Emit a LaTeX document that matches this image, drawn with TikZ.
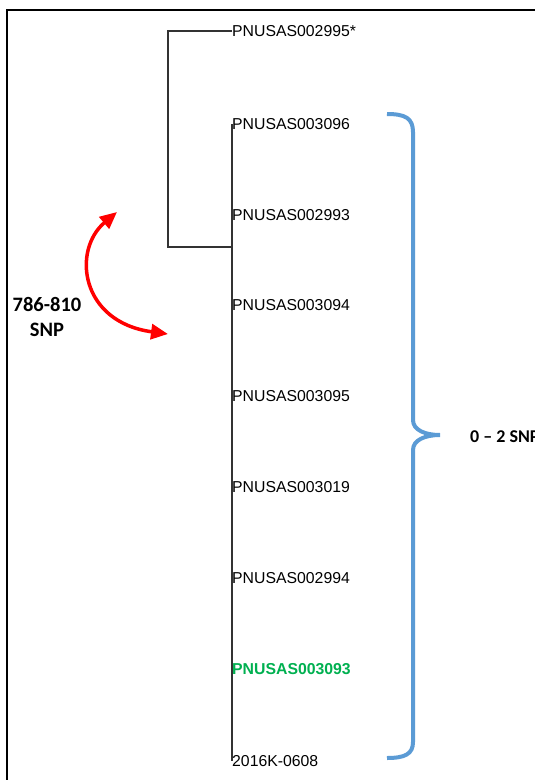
\documentclass[tikz,border=0pt]{standalone}
\usepackage{fontspec}
\setmainfont{Liberation Sans}
\newfontfamily\calibri{Carlito}
\usetikzlibrary{arrows.meta}
\definecolor{bracecol}{RGB}{91,155,213}
\definecolor{hitgreen}{RGB}{0,176,80}

\begin{document}
\begin{tikzpicture}[
  x=1pt, y=-1pt,
  leaf/.style={anchor=west, inner sep=0pt, font=\fontsize{15.8}{18}\selectfont},
  hit/.style={leaf, text=hitgreen, font=\fontsize{15.8}{18}\selectfont\bfseries},
  branch/.style={draw=black!80, line width=1.3pt},
  bracebar/.style={draw=bracecol, line width=4pt},
  swap/.style={draw=red, line width=3.5pt, {Triangle[length=17pt,width=15pt]}-{Triangle[length=17pt,width=15pt]}},
  note/.style={align=center, inner sep=0pt, font=\calibri\bfseries},
]
\useasboundingbox (0,0) rectangle (535,780);

% ---- frame ------------------------------------------------------
\draw[line width=2pt] (7,10) rectangle (545,795);

% ---- leaves -----------------------------------------------------
\node[leaf] (out) at (232,31) {PNUSAS002995*};
\node[leaf] (l1) at (232,124) {PNUSAS003096};
\node[leaf] (l2) at (232,215) {PNUSAS002993};
\node[leaf] (l3) at (232,305) {PNUSAS003094};
\node[leaf] (l4) at (232,396) {PNUSAS003095};
\node[leaf] (l5) at (232,487) {PNUSAS003019};
\node[leaf] (l6) at (232,578) {PNUSAS002994};
\node[hit]  (l7) at (232,669) {PNUSAS003093};
\node[leaf] (l8) at (232,761) {2016K-0608};

% ---- branches ---------------------------------------------------
\coordinate (root)  at (168,247);
\coordinate (inner) at (232,247);
\draw[branch] (out.west) -| (root) -- (inner);
\draw[branch] (l1.west) -- (l8.west);

% ---- clade brace ------------------------------------------------
\draw[bracebar] (387,114) .. controls (405,114) and (413,118) .. (413,132)
  -- (413,420) .. controls (413,430) and (425,435) .. (440,435)
  .. controls (425,435) and (413,440) .. (413,450)
  -- (413,742) .. controls (413,754) and (405,758) .. (387,758);
\node[note, anchor=west, font=\calibri\bfseries\fontsize{18}{21}\selectfont] (within) at (470,437) {0 – 2 SNP};

% ---- distance to outgroup ---------------------------------------
\coordinate (swapA) at (117,212);
\coordinate (swapB) at (168,334);
\draw[swap] (swapA) .. controls (72,250) and (80,322) .. (swapB);
\node[note, font=\calibri\bfseries\fontsize{20.5}{25}\selectfont] (dist) at (47,317) {786-810\\SNP};

\end{tikzpicture}
\end{document}
